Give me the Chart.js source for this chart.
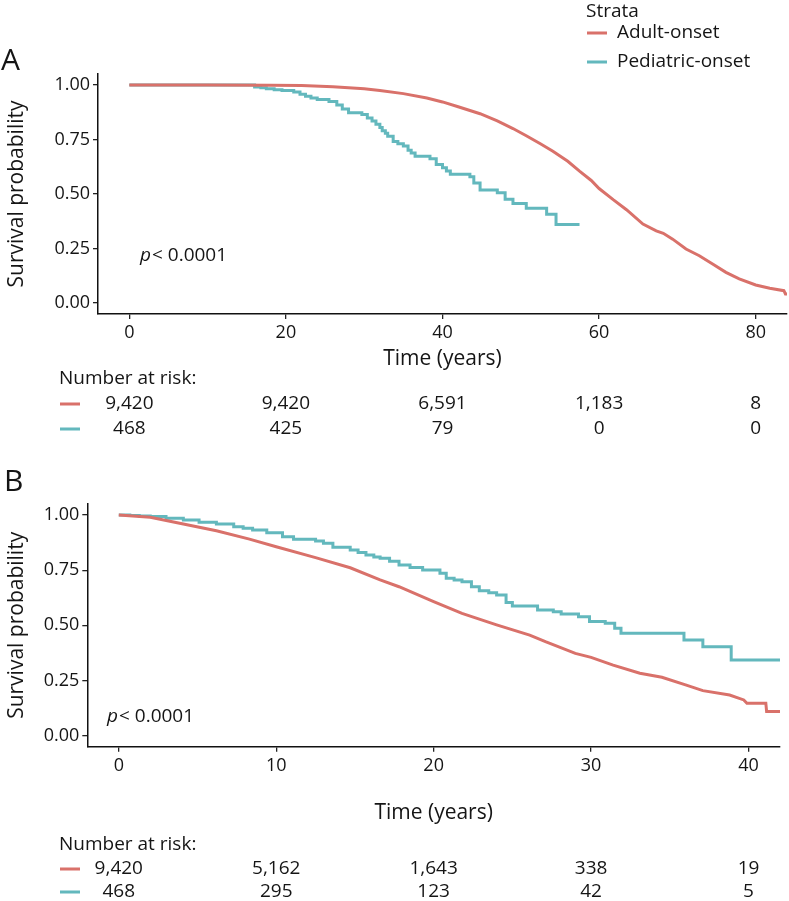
<!DOCTYPE html>
<html>
<head>
<meta charset="utf-8">
<script src="https://cdn.jsdelivr.net/npm/chart.js@4.4.1/dist/chart.umd.min.js"></script>
<style>
  body { margin: 0; background: #fff; }
  #wrap { position: relative; width: 789px; height: 901px; }
  canvas { position: absolute; left: 0; }
</style>
</head>
<body>
<div id="wrap">
  <canvas id="chartA" width="789" height="470" style="top:0"></canvas>
  <canvas id="chartB" width="789" height="431" style="top:470px"></canvas>
</div>
<script>
// couleurs des strates
const ROUGE = '#D9716A';
const CYAN = '#63B8BD';
const TEXTE = '#151515';
const POLICE = 'Open Sans';

// Panneau A : ticks et nombre à risque
const ticksA = [0, 20, 40, 60, 80];
const risqueAdulteA = [9420, 9420, 6591, 1183, 8];
const risquePediaA = [468, 425, 79, 0, 0];

// Panneau A : courbes
const tempsAdulteA = [0, 10, 18, 22, 26, 30, 32, 35, 38, 40, 42, 44.8, 47, 49, 50.7, 52.5, 54.1, 56, 57.5, 59, 60, 61.8, 63.5, 65.6, 67.3, 68.2, 69.4, 71.1, 72.8, 74.5, 76.2, 77.9, 80, 81.8, 83.6, 83.8, 84];
const survieAdulteA = [1, 1, 0.999, 0.997, 0.992, 0.982, 0.974, 0.96, 0.94, 0.922, 0.9, 0.868, 0.835, 0.8, 0.767, 0.73, 0.696, 0.65, 0.605, 0.562, 0.525, 0.474, 0.428, 0.362, 0.331, 0.32, 0.293, 0.248, 0.217, 0.179, 0.141, 0.111, 0.083, 0.068, 0.057, 0.042, 0.042];

const tempsPediaA = [0, 16, 16.8, 17.5, 18.5, 19.5, 21, 21.8, 22.5, 23.2, 24, 25.5, 26.5, 27.2, 28, 29.7, 30.4, 31, 31.5, 32, 32.3, 32.7, 33, 33.7, 34.3, 35, 35.6, 36, 36.5, 38.4, 39.2, 40, 40.5, 41, 43.5, 44, 44.8, 47, 48, 49, 50.7, 53.3, 54.5, 57.5];
const surviePediaA = [1, 0.99, 0.987, 0.982, 0.978, 0.974, 0.968, 0.957, 0.948, 0.94, 0.933, 0.924, 0.908, 0.89, 0.872, 0.864, 0.848, 0.835, 0.82, 0.805, 0.79, 0.778, 0.765, 0.741, 0.73, 0.72, 0.7, 0.688, 0.673, 0.661, 0.635, 0.62, 0.605, 0.59, 0.579, 0.55, 0.518, 0.506, 0.476, 0.457, 0.435, 0.407, 0.36, 0.36];

// Panneau B : ticks et nombre à risque
const ticksB = [0, 10, 20, 30, 40];
const risqueAdulteB = [9420, 5162, 1643, 338, 19];
const risquePediaB = [468, 295, 123, 42, 5];

// Panneau B : courbes
const tempsAdulteB = [0, 2, 4.1, 6.2, 8.3, 10, 12.5, 14.7, 16.6, 17.8, 20, 21.8, 24, 26.1, 27.1, 29, 30, 31.4, 33.1, 34.5, 36, 37.1, 38.8, 39.7, 39.9, 41.1, 41.15, 42];
const survieAdulteB = [1, 0.99, 0.959, 0.929, 0.891, 0.856, 0.807, 0.761, 0.706, 0.675, 0.607, 0.554, 0.502, 0.456, 0.426, 0.373, 0.355, 0.32, 0.283, 0.265, 0.23, 0.204, 0.184, 0.162, 0.147, 0.147, 0.109, 0.109];

const tempsPediaB = [0, 0.7, 1.3, 2, 3, 4.1, 5.1, 6.2, 7.3, 7.9, 8.5, 9.4, 10.4, 11.1, 12.5, 13, 13.6, 14.7, 15.2, 15.7, 16.2, 16.6, 17.2, 17.8, 18.5, 19.3, 20.4, 20.8, 21.3, 21.8, 22.4, 22.9, 23.5, 24, 24.6, 25, 26.6, 27.6, 28.1, 29.2, 29.9, 30.9, 31.5, 31.9, 35.9, 37.1, 38.9, 42];
const surviePediaB = [1, 0.998, 0.996, 0.993, 0.985, 0.977, 0.967, 0.959, 0.947, 0.94, 0.932, 0.92, 0.902, 0.89, 0.882, 0.872, 0.854, 0.842, 0.83, 0.819, 0.81, 0.804, 0.79, 0.774, 0.762, 0.751, 0.736, 0.713, 0.706, 0.698, 0.675, 0.657, 0.648, 0.638, 0.603, 0.588, 0.57, 0.562, 0.551, 0.539, 0.517, 0.509, 0.487, 0.464, 0.434, 0.403, 0.343, 0.343];

const ticksY = [0, 0.25, 0.5, 0.75, 1];

function points(temps, survie) {
  return temps.map((t, i) => ({ x: t, y: survie[i] }));
}

function formatNombre(n) {
  return n.toLocaleString('en-US');
}

// Dessine lettre du panneau, p-valeur, légende et tableau du nombre à risque
const decor = {
  id: 'decor',
  afterDraw(chart, args, opts) {
    const ctx = chart.ctx;
    const sx = chart.scales.x;
    ctx.save();
    ctx.fillStyle = TEXTE;
    ctx.textBaseline = 'middle';

    // lettre du panneau
    ctx.font = `30px "${POLICE}"`;
    ctx.textAlign = 'left';
    ctx.fillText(opts.lettre, opts.lettreX, opts.lettreY);

    // p-valeur
    ctx.font = `italic 19px "${POLICE}"`;
    ctx.fillText('p', opts.pX, opts.pY);
    const largP = ctx.measureText('p').width;
    ctx.font = `19px "${POLICE}"`;
    ctx.fillText('< 0.0001', opts.pX + largP + 1, opts.pY);

    // légende
    if (opts.legende) {
      ctx.font = `19px "${POLICE}"`;
      ctx.fillText('Strata', 586, 12);
      const items = [['Adult-onset', ROUGE, 33], ['Pediatric-onset', CYAN, 62]];
      items.forEach(([lab, coul, y]) => {
        ctx.fillStyle = coul;
        ctx.fillRect(587, y - 1.5, 20, 3);
        ctx.fillStyle = TEXTE;
        ctx.fillText(lab, 617, y);
      });
    }

    // tableau du nombre à risque
    ctx.font = `19px "${POLICE}"`;
    ctx.textAlign = 'left';
    ctx.fillText('Number at risk:', 59, opts.enteteY);
    opts.lignes.forEach((ligne, k) => {
      const y = opts.lignesY[k];
      ctx.fillStyle = ligne.couleur;
      ctx.fillRect(60, y - 1.5, 20, 3);
      ctx.fillStyle = TEXTE;
      ctx.textAlign = 'center';
      opts.temps.forEach((t, i) => {
        ctx.fillText(formatNombre(ligne.valeurs[i]), sx.getPixelForValue(t), y);
      });
      ctx.textAlign = 'left';
    });
    ctx.restore();
  }
};

function creerGraphique(id, cfg) {
  const axeCommun = {
    grid: { display: true, drawOnChartArea: false, drawTicks: true, tickLength: 5, color: '#222', lineWidth: 1.3 },
    border: { display: true, color: '#111', width: 1.5 },
    ticks: { color: TEXTE, font: { family: POLICE, size: 18 }, padding: 3, autoSkip: false, maxRotation: 0 },
    title: { display: true, color: TEXTE, font: { family: POLICE, size: 21 }, padding: { top: 0, bottom: 0 } }
  };
  return new Chart(document.getElementById(id), {
    type: 'line',
    data: {
      datasets: [
        { label: 'Adult-onset', data: points(cfg.tAdulte, cfg.sAdulte), borderColor: ROUGE, borderWidth: 3, pointRadius: 0, tension: 0, stepped: false },
        { label: 'Pediatric-onset', data: points(cfg.tPedia, cfg.sPedia), borderColor: CYAN, borderWidth: 3, pointRadius: 0, stepped: true }
      ]
    },
    options: {
      responsive: false,
      animation: false,
      devicePixelRatio: 1,
      layout: { padding: cfg.padding },
      plugins: { legend: { display: false }, tooltip: { enabled: false }, decor: cfg.decor },
      scales: {
        x: {
          ...axeCommun,
          type: 'linear', min: cfg.xMin, max: cfg.xMax,
          afterBuildTicks: s => { s.ticks = cfg.ticks.map(v => ({ value: v })); },
          afterFit: s => { s.height = cfg.hauteurX; },
          title: { ...axeCommun.title, text: 'Time (years)' }
        },
        y: {
          ...axeCommun,
          type: 'linear', min: -0.05, max: 1.05,
          afterBuildTicks: s => { s.ticks = ticksY.map(v => ({ value: v })); },
          afterFit: s => { s.width = cfg.largeurY; },
          ticks: { ...axeCommun.ticks, callback: v => v.toFixed(2) },
          title: { ...axeCommun.title, text: 'Survival probability', padding: { top: 4, bottom: 0 } }
        }
      }
    },
    plugins: [decor]
  });
}

creerGraphique('chartA', {
  tAdulte: tempsAdulteA, sAdulte: survieAdulteA, tPedia: tempsPediaA, sPedia: surviePediaA,
  ticks: ticksA, xMin: -4, xMax: 84,
  padding: { top: 74, right: 2, bottom: 98.7, left: 0 },
  hauteurX: 57.3, largeurY: 98,
  decor: {
    lettre: 'A', lettreX: 1, lettreY: 61,
    pX: 140, pY: 256, legende: true,
    enteteY: 379, lignesY: [404, 429], temps: ticksA,
    lignes: [{ couleur: ROUGE, valeurs: risqueAdulteA }, { couleur: CYAN, valeurs: risquePediaA }]
  }
});

creerGraphique('chartB', {
  tAdulte: tempsAdulteB, sAdulte: survieAdulteB, tPedia: tempsPediaB, sPedia: surviePediaB,
  ticks: ticksB, xMin: -2, xMax: 42,
  padding: { top: 34, right: 9, bottom: 75.4, left: 0 },
  hauteurX: 78.9, largeurY: 87.3,
  decor: {
    lettre: 'B', lettreX: 4, lettreY: 12,
    pX: 107, pY: 247, legende: false,
    enteteY: 375, lignesY: [399, 422], temps: ticksB,
    lignes: [{ couleur: ROUGE, valeurs: risqueAdulteB }, { couleur: CYAN, valeurs: risquePediaB }]
  }
});
</script>
</body>
</html>
